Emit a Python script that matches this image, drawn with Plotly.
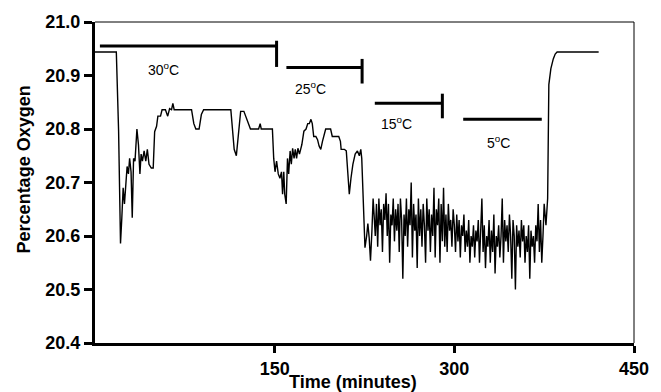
import plotly.graph_objects as go

# ---- data ----
time_smooth = [0, 17.8, 19.7, 21.3, 22.4, 23.5, 24.6, 25.7, 26.8, 27.9, 28.9, 30.1, 31.1, 32.2, 33.4,
               35.0, 36.3, 37.5, 38.5, 39.6, 41.0, 42.4, 43.7, 45.1, 47.0, 48.6, 49.8, 51.4, 52.5,
               54.7, 56.0, 58.8, 60.7, 62.3, 63.9, 65.0, 66.1, 80.6, 82.5, 84.2, 86.9, 88.8, 90.7,
               113.4, 114.8, 116.2, 118.0, 119.7, 121.6, 124.3, 127.1, 129.8, 136.6, 137.9, 138.8,
               148.1, 149.2, 150.3, 151.6, 153.0, 154.4, 155.7, 156.6, 157.6, 158.4, 159.6, 160.7,
               161.7, 162.9, 163.9, 165.0, 166.2, 167.2, 168.3, 169.4, 170.7, 172.7, 174.4, 176.2,
               177.6, 178.9, 180.3, 181.4, 182.6, 184.4, 185.8, 187.1, 188.5, 189.9, 191.2, 192.6,
               196.7, 198.1, 203.5, 204.9, 205.5, 208.2, 209.8, 210.9, 212.3, 213.7, 215.3, 217.2,
               219.1, 220.7, 221.9, 222.7, 224.0, 225.4, 226.8, 227.8, 228.9, 230.0, 231.2, 232.2]
oxygen_smooth = [20.944, 20.944, 20.796, 20.586, 20.634, 20.69, 20.66, 20.70, 20.73, 20.716, 20.745,
                 20.72, 20.634, 20.745, 20.74, 20.80, 20.77, 20.716, 20.753, 20.74, 20.759, 20.74,
                 20.762, 20.734, 20.727, 20.727, 20.795, 20.805, 20.824, 20.824, 20.836, 20.836,
                 20.824, 20.838, 20.836, 20.848, 20.836, 20.836, 20.81, 20.80, 20.80, 20.827, 20.836,
                 20.836, 20.796, 20.762, 20.75, 20.796, 20.833, 20.833, 20.818, 20.80, 20.80, 20.81,
                 20.80, 20.80, 20.745, 20.72, 20.74, 20.716, 20.708, 20.72, 20.678, 20.72, 20.678,
                 20.66, 20.745, 20.716, 20.759, 20.734, 20.764, 20.745, 20.762, 20.745, 20.764,
                 20.753, 20.771, 20.796, 20.80, 20.81, 20.81, 20.818, 20.81, 20.786, 20.786, 20.78,
                 20.768, 20.762, 20.777, 20.79, 20.80, 20.80, 20.786, 20.786, 20.777, 20.762, 20.762,
                 20.759, 20.716, 20.678, 20.708, 20.734, 20.753, 20.759, 20.75, 20.762, 20.745,
                 20.67, 20.578, 20.60, 20.623, 20.597, 20.554, 20.61, 20.67]

# noisy low-temperature section, one reading per minute from t = 233
noisy_start = 233
oxygen_noisy = [20.64, 20.60, 20.66, 20.58, 20.67, 20.62, 20.65, 20.57, 20.66, 20.63,
                20.68, 20.60, 20.66, 20.55, 20.64, 20.62, 20.67, 20.59, 20.65, 20.61,
                20.66, 20.57, 20.67, 20.63, 20.52, 20.64, 20.60, 20.67, 20.58, 20.65,
                20.62, 20.70, 20.56, 20.66, 20.61, 20.64, 20.54, 20.67, 20.60, 20.65,
                20.58, 20.66, 20.62, 20.55, 20.67, 20.61, 20.65, 20.57, 20.64, 20.60,
                20.69, 20.56, 20.65, 20.62, 20.67, 20.55, 20.66, 20.59, 20.69, 20.58,
                20.64, 20.57, 20.66, 20.61, 20.63, 20.58, 20.65,
                20.62, 20.57, 20.64, 20.59, 20.63, 20.56, 20.62, 20.60, 20.64, 20.57,
                20.61, 20.58, 20.63, 20.55, 20.60, 20.58, 20.62, 20.56, 20.61, 20.59,
                20.63, 20.55, 20.60, 20.67, 20.57, 20.62, 20.54, 20.60, 20.58, 20.63,
                20.55, 20.61, 20.57, 20.64, 20.53, 20.60, 20.58, 20.62, 20.56, 20.60,
                20.67, 20.55, 20.63, 20.59, 20.62, 20.57, 20.64, 20.60, 20.52, 20.63,
                20.60, 20.50, 20.62, 20.58, 20.61, 20.56, 20.63, 20.59, 20.62, 20.55,
                20.60, 20.57, 20.62, 20.52, 20.61, 20.58, 20.60, 20.55, 20.62, 20.59,
                20.66, 20.57, 20.63, 20.55, 20.60, 20.66]

time_recovery = [376.5, 377.9, 378.9, 380.6, 382.6, 384.2, 385.8, 420.5]
oxygen_recovery = [20.62, 20.67, 20.883, 20.913, 20.931, 20.94, 20.944, 20.944]

# temperature periods (bars)
period_labels = ["30<sup>o</sup>C", "25<sup>o</sup>C", "15<sup>o</sup>C", "5<sup>o</sup>C"]
period_start = [4.1, 159.8, 233.6, 307.4]
period_end = [151.6, 223.0, 290.0, 373.0]
period_level = [20.955, 20.915, 20.848, 20.818]
period_end_tick = [(20.916, 20.965), (20.885, 20.931), (20.82, 20.866), None]
label_x = [57.4, 180.3, 251.6, 336.9]
label_y = [20.913, 20.877, 20.812, 20.775]

x_ticks = [150, 300, 450]
y_ticks = [20.4, 20.5, 20.6, 20.7, 20.8, 20.9, 21.0]

# ---- assemble ----
time_all = list(time_smooth) + [noisy_start + i for i in range(len(oxygen_noisy))] + time_recovery
oxy_all = list(oxygen_smooth) + oxygen_noisy + oxygen_recovery

FONT = "Arial, Liberation Sans, sans-serif"

fig = go.Figure()
fig.add_trace(go.Scatter(x=time_all, y=oxy_all, mode="lines",
                         line=dict(color="black", width=1.4), showlegend=False,
                         hoverinfo="skip"))

shapes = []
for s, e, lv, tk in zip(period_start, period_end, period_level, period_end_tick):
    shapes.append(dict(type="line", xref="x", yref="y", x0=s, x1=e, y0=lv, y1=lv,
                       line=dict(color="black", width=3)))
    if tk is not None:
        shapes.append(dict(type="line", xref="x", yref="y", x0=e, x1=e, y0=tk[0], y1=tk[1],
                           line=dict(color="black", width=3)))
# thin top and right frame
shapes.append(dict(type="line", xref="paper", yref="paper", x0=0, x1=1, y0=1, y1=1,
                   line=dict(color="black", width=1)))
shapes.append(dict(type="line", xref="paper", yref="paper", x0=1, x1=1, y0=0, y1=1,
                   line=dict(color="black", width=1)))

annotations = []
for lab, lx, ly in zip(period_labels, label_x, label_y):
    annotations.append(dict(text=lab, x=lx, y=ly, xref="x", yref="y", showarrow=False,
                            font=dict(family=FONT, size=14, color="black"),
                            xanchor="center", yanchor="middle"))
annotations.append(dict(text="<b>Time (minutes)</b>", x=0.479, y=-0.121, xref="paper", yref="paper",
                        showarrow=False, font=dict(family=FONT, size=18, color="black"),
                        xanchor="center", yanchor="middle"))
annotations.append(dict(text="<b>Percentage Oxygen</b>", x=-0.131, y=0.542, xref="paper", yref="paper",
                        showarrow=False, textangle=-90, font=dict(family=FONT, size=18, color="black"),
                        xanchor="center", yanchor="middle"))

fig.update_layout(
    width=661, height=392,
    margin=dict(l=95, r=17, t=20, b=49),
    paper_bgcolor="white", plot_bgcolor="white",
    shapes=shapes, annotations=annotations,
    xaxis=dict(range=[0, 450], tickvals=x_ticks, ticktext=[f"<b>{v}</b>" for v in x_ticks],
               showgrid=False, zeroline=False, showline=True, linecolor="black", linewidth=3,
               ticks="outside", ticklen=7, tickwidth=3, tickcolor="black",
               tickfont=dict(family=FONT, size=18, color="black")),
    yaxis=dict(range=[20.4, 21.0], tickvals=y_ticks, ticktext=[f"<b>{v:.1f}</b>" for v in y_ticks],
               showgrid=False, zeroline=False, showline=True, linecolor="black", linewidth=3,
               ticks="outside", ticklen=8, tickwidth=3, tickcolor="black",
               tickfont=dict(family=FONT, size=18, color="black")),
)

fig.write_html("out.html")
